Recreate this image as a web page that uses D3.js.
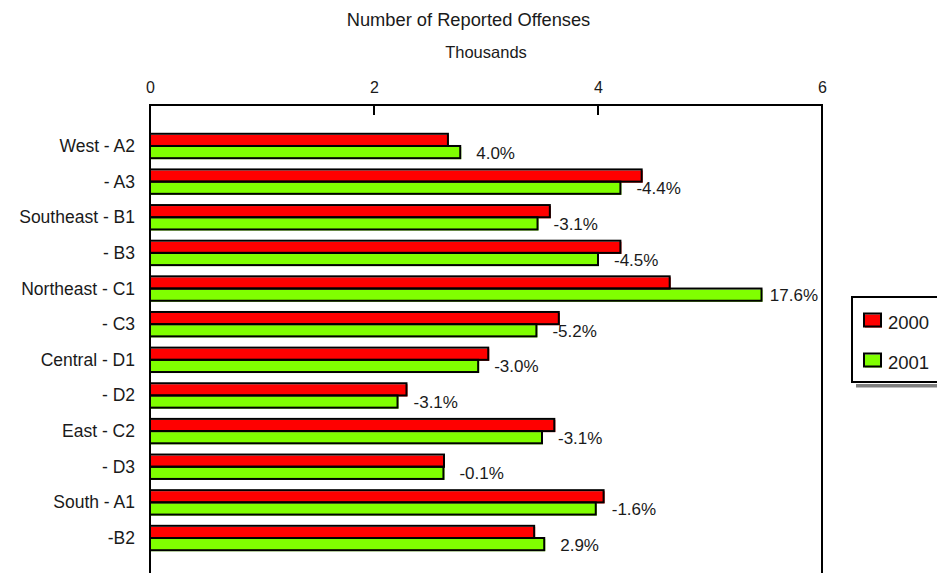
<!DOCTYPE html>
<html><head><meta charset="utf-8">
<script src="https://cdn.jsdelivr.net/npm/d3@7"></script>
<style>html,body{margin:0;padding:0;background:#fff;overflow:hidden}</style>
</head><body>
<svg id="c" width="937" height="573"></svg>
<script>
const categories = ["West - A2","- A3","Southeast - B1","- B3","Northeast - C1","- C3","Central - D1","- D2","East - C2","- D3","South - A1","-B2"];
const values2000 = [2.66,4.39,3.57,4.20,4.64,3.65,3.02,2.29,3.61,2.625,4.05,3.43];
const values2001 = [2.77,4.20,3.46,4.00,5.46,3.45,2.93,2.21,3.50,2.62,3.98,3.52];
const changeLabels = ["4.0%","-4.4%","-3.1%","-4.5%","17.6%","-5.2%","-3.0%","-3.1%","-3.1%","-0.1%","-1.6%","2.9%"];
const tickValues = [0,2,4,6];
const seriesNames = ["2000","2001"];
const colors = ["#ff0000","#80ff00"];

const svg = d3.select("#c");
const font = "'Liberation Sans', Arial, sans-serif";
const textColor = "#1a1a1a";
const L=150,R=822,T=105,B=579;

const x = d3.scaleLinear().domain([0,6]).range([L,R]);
const y = d3.scaleBand().domain(categories).range([T,B]).paddingInner(0).paddingOuter(0.65);
const step = y.step();
const barH = 12.2;

svg.append("text").attr("x",468.5).attr("y",19).attr("text-anchor","middle").attr("dominant-baseline","central")
  .style("font-family",font).style("font-size","18.3px").attr("fill",textColor).text("Number of Reported Offenses");
svg.append("text").attr("x",(L+R)/2).attr("y",52).attr("text-anchor","middle").attr("dominant-baseline","central")
  .style("font-family",font).style("font-size","16.5px").attr("fill",textColor).text("Thousands");

// top axis
const ax = svg.append("g").attr("transform",`translate(0,${T})`)
  .call(d3.axisTop(x).tickValues(tickValues).tickSize(0).tickPadding(12).tickFormat(d3.format("d")));
ax.select(".domain").remove();
ax.selectAll("text").style("font-family",font).style("font-size","16px").attr("fill",textColor);
svg.append("g").selectAll("line").data(tickValues.slice(1,-1)).join("line")
  .attr("x1",d=>x(d)).attr("x2",d=>x(d)).attr("y1",T).attr("y2",T+10).attr("stroke","#000").attr("stroke-width",2);

// category labels
svg.append("g").selectAll("text").data(categories).join("text")
  .attr("x",L-15).attr("y",d=>y(d)+step/2).attr("text-anchor","end").attr("dominant-baseline","central")
  .style("font-family",font).style("font-size","17.5px").attr("fill",textColor).text(d=>d);

// bars
const rows = categories.map((c,i)=>({c,v:[values2000[i],values2001[i]],lab:changeLabels[i]}));
const g = svg.append("g");
rows.forEach(r=>{
  const mid = y(r.c)+step/2;
  r.v.forEach((v,k)=>{
    const y0 = k===0 ? mid-barH : mid;
    g.append("rect").attr("x",x(0)+1).attr("y",y0+1).attr("width",x(v)-x(0)).attr("height",barH).attr("fill",colors[k]);
  });
  r.v.forEach((v,k)=>{
    const y0 = k===0 ? mid-barH : mid;
    g.append("rect").attr("x",x(0)).attr("y",y0).attr("width",x(v)-x(0)).attr("height",barH)
      .attr("fill","none").attr("stroke","#000").attr("stroke-width",2);
  });
});

// data labels
svg.append("g").selectAll("text").data(rows).join("text")
  .attr("y",d=>y(d.c)+step/2+barH/2+1).attr("dominant-baseline","central")
  .style("font-family",font).style("font-size","17px").attr("fill",textColor).text(d=>d.lab)
  .attr("x",function(d){const w=this.getComputedTextLength();let xx=x(d.v[1])+16; if(xx+w>R-4) xx=R-4-w; return xx;});

// frame
svg.append("rect").attr("x",L).attr("y",T).attr("width",R-L).attr("height",B-T).attr("fill","none").attr("stroke","#000").attr("stroke-width",2);

// legend
const lg = svg.append("g");
lg.append("rect").attr("x",856).attr("y",384).attr("width",100).attr("height",3.5).attr("fill","#808080");
lg.append("rect").attr("x",852).attr("y",297).attr("width",100).attr("height",85).attr("fill","#fff").attr("stroke","#000").attr("stroke-width",2);
seriesNames.forEach((s,k)=>{
  const cy = 320.5 + k*40;
  lg.append("rect").attr("x",865).attr("y",cy-6).attr("width",17).attr("height",13).attr("fill",colors[k]);
  lg.append("rect").attr("x",864).attr("y",cy-7).attr("width",17).attr("height",13).attr("fill","none").attr("stroke","#000").attr("stroke-width",2);
  lg.append("text").attr("x",888).attr("y",cy+1.5).attr("dominant-baseline","central")
    .style("font-family",font).style("font-size","18.5px").attr("fill",textColor).text(s);
});
</script>
</body></html>
